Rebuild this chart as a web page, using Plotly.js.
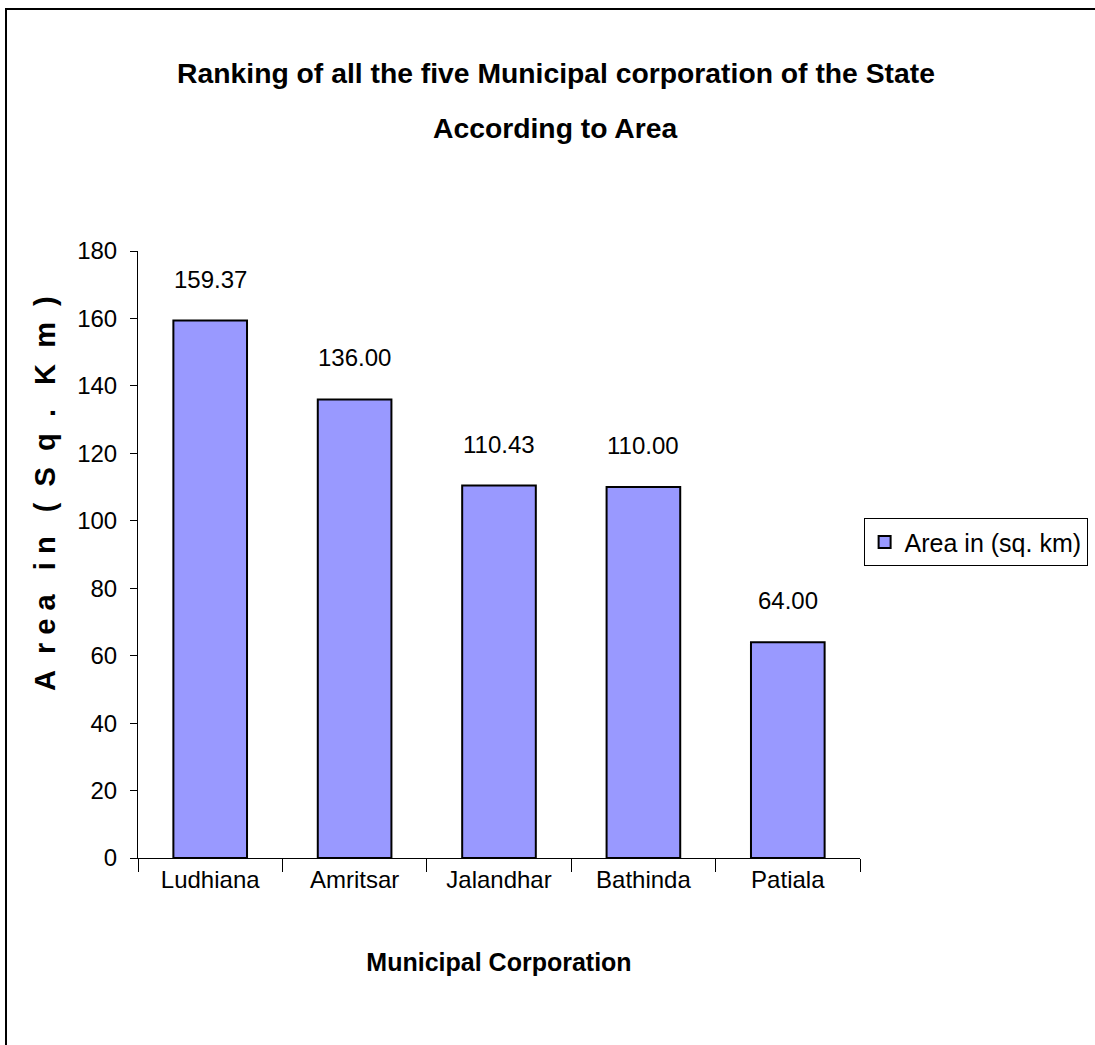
<!DOCTYPE html>
<html>
<head>
<meta charset="utf-8">
<script src="https://cdn.plot.ly/plotly-3.0.1.min.js"></script>
<style>
html,body{margin:0;padding:0;background:#fff;}
#wrap{position:relative;width:1095px;height:1045px;overflow:hidden;}
#chart{position:absolute;left:0;top:0;width:1095px;height:1045px;}
#frame{position:absolute;left:5px;top:8px;width:1200px;height:1200px;border-left:2px solid #000;border-top:2px solid #000;pointer-events:none;}
</style>
</head>
<body>
<div id="wrap"><div id="chart"></div><div id="frame"></div></div>
<script>
var categories = ["Ludhiana", "Amritsar", "Jalandhar", "Bathinda", "Patiala"];
var areaValues = [159.37, 136.00, 110.43, 110.00, 64.00];
var yTicks = [0, 20, 40, 60, 80, 100, 120, 140, 160, 180];
var seriesName = "Area in (sq. km)";
var titleLines = ["Ranking of all the five Municipal corporation of the State", "According to Area"];
var xTitle = "Municipal Corporation";
var yTitle = "A  r e a   i n   (  S  q  .   K  m  )";

var FONT = '"Liberation Sans", Arial, sans-serif';
var nb = function(s){ return s.replace(/ /g, '&nbsp;'); };

var trace = {
  type: 'bar',
  x: categories,
  y: areaValues,
  name: seriesName,
  marker: {color: '#9999FF', line: {color: '#000000', width: 2}},
  hoverinfo: 'x+y'
};

var annotations = categories.map(function(c, i){
  return {
    x: c, y: areaValues[i], xref: 'x', yref: 'y',
    text: areaValues[i].toFixed(2),
    showarrow: false, yanchor: 'bottom', yshift: 26,
    font: {family: FONT, size: 24, color: '#000'}
  };
});
annotations.push({
  xref: 'paper', yref: 'paper', x: -0.129, y: 0.601, xanchor: 'center', yanchor: 'middle',
  text: nb(yTitle), textangle: -90, showarrow: false,
  font: {family: FONT, size: 29, color: '#000', weight: 'bold'}
});
annotations.push({
  xref: 'paper', yref: 'paper', x: 0.578, y: (858 - 128) / 607, xanchor: 'center', yanchor: 'middle',
  text: titleLines[1], showarrow: false,
  font: {family: FONT, size: 28.3, color: '#000', weight: 'bold'}
});

var layout = {
  width: 1095, height: 1045,
  margin: {l: 138, r: 235, t: 251, b: 187, pad: 0, autoexpand: false},
  paper_bgcolor: '#fff', plot_bgcolor: '#fff',
  title: {
    text: titleLines[0],
    font: {family: FONT, size: 28.3, color: '#000', weight: 'bold'},
    x: 556 / 1095, xanchor: 'center', y: 1 - 73/1045, yanchor: 'middle'
  },
  bargap: 0.49,
  xaxis: {
    type: 'category',
    showline: true, linecolor: '#000', linewidth: 1,
    ticks: 'outside', tickson: 'boundaries', ticklen: 13, tickcolor: '#000', tickwidth: 1,
    tickfont: {family: FONT, size: 24, color: '#000'},
    showgrid: false, zeroline: false,
    title: {text: xTitle, standoff: 61, font: {family: FONT, size: 25, color: '#000', weight: 'bold'}}
  },
  yaxis: {
    range: [0, 180], tickvals: yTicks, ticktext: yTicks.map(String),
    showline: true, linecolor: '#000', linewidth: 1,
    ticks: 'outside', ticklen: 7, tickcolor: '#000', tickwidth: 1,
    ticklabelstandoff: 8,
    tickfont: {family: FONT, size: 24, color: '#000'},
    showgrid: false, zeroline: false
  },
  showlegend: true,
  legend: {
    x: 1.005, y: 0.52, xanchor: 'left', yanchor: 'middle',
    bordercolor: '#000', borderwidth: 1, bgcolor: '#fff',
    font: {family: FONT, size: 25, color: '#000'},
    itemwidth: 30
  },
  annotations: annotations
};

Plotly.newPlot('chart', [trace], layout, {displayModeBar: false, staticPlot: true});
</script>
</body>
</html>
